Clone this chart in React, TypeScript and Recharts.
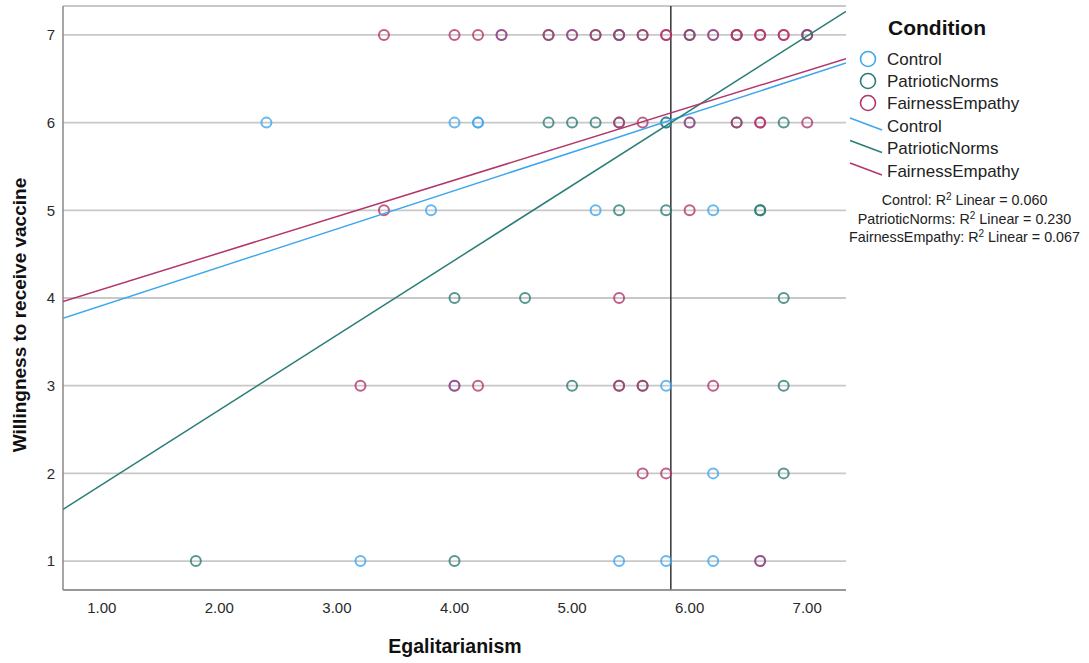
import React from 'react';
import {CartesianGrid, Label, Legend, ReferenceLine, Scatter, ScatterChart, XAxis, YAxis} from 'recharts';

// data (Egalitarianism vs willingness)
const seriesNames = ['Control', 'PatrioticNorms', 'FairnessEmpathy'];
const seriesColors = ['#3ea6ef', '#2b7d77', '#b3356b'];
const rSquared = ['0.060', '0.230', '0.067'];

const controlPoints: [number, number][] = [
    [4.4, 7], [5.0, 7], [5.4, 7], [6.0, 7], [6.2, 7], [7.0, 7],
    [2.4, 6], [4.0, 6], [4.2, 6], [4.2, 6], [5.8, 6], [6.0, 6],
    [3.8, 5], [5.2, 5], [6.2, 5],
    [4.0, 3], [5.8, 3],
    [6.2, 2],
    [3.2, 1], [5.4, 1], [5.8, 1], [6.2, 1], [6.6, 1],
];

const patrioticPoints: [number, number][] = [
    [4.8, 7], [5.2, 7], [5.4, 7], [5.6, 7], [6.0, 7], [6.4, 7], [7.0, 7],
    [4.8, 6], [5.0, 6], [5.2, 6], [5.4, 6], [5.8, 6], [6.4, 6], [6.8, 6],
    [5.4, 5], [5.8, 5], [6.6, 5], [6.6, 5],
    [4.0, 4], [4.6, 4], [6.8, 4],
    [5.0, 3], [5.4, 3], [5.6, 3], [6.8, 3],
    [6.8, 2],
    [1.8, 1], [4.0, 1],
];

const fairnessPoints: [number, number][] = [
    [3.4, 7], [4.0, 7], [4.2, 7], [4.4, 7], [4.8, 7], [5.0, 7], [5.2, 7], [5.4, 7], [5.6, 7],
    [5.8, 7], [5.8, 7], [6.0, 7], [6.2, 7], [6.4, 7], [6.4, 7], [6.6, 7], [6.6, 7], [6.8, 7], [6.8, 7], [7.0, 7],
    [5.4, 6], [5.6, 6], [6.0, 6], [6.4, 6], [6.6, 6], [6.6, 6], [7.0, 6],
    [3.4, 5], [6.0, 5],
    [5.4, 4],
    [3.2, 3], [4.0, 3], [4.2, 3], [5.4, 3], [5.6, 3], [6.2, 3],
    [5.6, 2], [5.8, 2],
    [6.6, 1],
];

// linear fit lines, endpoints at the axis limits
const controlFit: [number, number][] = [[0.67, 3.77], [7.33, 6.68]];
const patrioticFit: [number, number][] = [[0.67, 1.59], [7.33, 7.27]];
const fairnessFit: [number, number][] = [[0.67, 3.96], [7.33, 6.73]];

const xTicks = [1, 2, 3, 4, 5, 6, 7];
const yTicks = [1, 2, 3, 4, 5, 6, 7];
const meanX = 5.84;

const toXY = (pts: [number, number][]) => pts.map(([x, y]) => ({x, y}));

const FONT = '"Liberation Sans", Arial, sans-serif';

const ring = (color: string) => (props: any) => (
    <circle cx={props.cx} cy={props.cy} r={5} fill="none" stroke={color} strokeWidth={2} strokeOpacity={0.8}/>
);

const noDot = () => <g/>;

const renderLegend = () => (
    <svg width={244} height={250} style={{fontFamily: FONT}}>
        <text x={43} y={35} fontSize={21} fontWeight="bold" fill="#111">Condition</text>
        {seriesNames.map((name, i) => (
            <g key={'p' + name}>
                <circle cx={23} cy={59 + i * 22} r={7.5} fill="none" stroke={seriesColors[i]} strokeWidth={1.6}/>
                <text x={42} y={59 + i * 22} dominantBaseline="central" fontSize={17} fill="#222">{name}</text>
            </g>
        ))}
        {seriesNames.map((name, i) => (
            <g key={'l' + name}>
                <line x1={5} y1={118 + i * 22.5} x2={37} y2={130 + i * 22.5} stroke={seriesColors[i]} strokeWidth={1.5}/>
                <text x={42} y={126 + i * 22.5} dominantBaseline="central" fontSize={17} fill="#222">{name}</text>
            </g>
        ))}
        {seriesNames.map((name, i) => (
            <text key={'r' + name} x={119.5} y={205 + i * 18.5} textAnchor="middle" fontSize={14.3} fill="#222">
                {name}: R<tspan dy={-5} fontSize={10}>2</tspan><tspan dy={5}> Linear = {rSquared[i]}</tspan>
            </text>
        ))}
    </svg>
);

export default function App() {
    return (
        <div style={{position: 'absolute', left: 0, top: 0}}>
            <ScatterChart
                width={1089}
                height={663}
                margin={{top: 6, right: 243, bottom: 43, left: 0}}
                style={{fontFamily: FONT}}
            >
                <CartesianGrid vertical={false} stroke="#c8c8c8" strokeWidth={1.8}/>
                <XAxis
                    type="number"
                    dataKey="x"
                    domain={[0.67, 7.33]}
                    ticks={xTicks}
                    tickFormatter={(v: number) => v.toFixed(2)}
                    allowDataOverflow
                    height={30}
                    tickLine={false}
                    tickMargin={6}
                    axisLine={{stroke: '#888', strokeWidth: 1.5}}
                    tick={{fill: '#2a2a2a', fontSize: 15}}
                >
                    <Label content={() => (
                        <text x={455} y={653} textAnchor="middle" fontSize={19.5} fontWeight="bold" fill="#111">Egalitarianism</text>
                    )}/>
                </XAxis>
                <YAxis
                    type="number"
                    dataKey="y"
                    domain={[0.67, 7.33]}
                    ticks={yTicks}
                    allowDataOverflow
                    width={63}
                    tickLine={false}
                    axisLine={{stroke: '#888', strokeWidth: 1.5}}
                    tick={{fill: '#2a2a2a', fontSize: 15}}
                >
                    <Label content={() => (
                        <text x={19} y={315} transform="rotate(-90 19 315)" textAnchor="middle" dominantBaseline="central"
                              fontSize={19} fontWeight="bold" fill="#111">Willingness to receive vaccine</text>
                    )}/>
                </YAxis>
                <Legend content={renderLegend} layout="vertical" align="center" verticalAlign="middle"
                        wrapperStyle={{left: 845, top: 0, width: 244, height: 250}}/>
                <Scatter name="Control" data={toXY(controlPoints)} shape={ring(seriesColors[0])} isAnimationActive={false}/>
                <Scatter name="PatrioticNorms" data={toXY(patrioticPoints)} shape={ring(seriesColors[1])} isAnimationActive={false}/>
                <Scatter name="FairnessEmpathy" data={toXY(fairnessPoints)} shape={ring(seriesColors[2])} isAnimationActive={false}/>
                <ReferenceLine x={meanX} stroke="#333" strokeWidth={1.5}/>
                <Scatter data={toXY(controlFit)} line={{stroke: seriesColors[0], strokeWidth: 1.5}} shape={noDot} legendType="none" isAnimationActive={false}/>
                <Scatter data={toXY(patrioticFit)} line={{stroke: seriesColors[1], strokeWidth: 1.5}} shape={noDot} legendType="none" isAnimationActive={false}/>
                <Scatter data={toXY(fairnessFit)} line={{stroke: seriesColors[2], strokeWidth: 1.5}} shape={noDot} legendType="none" isAnimationActive={false}/>
            </ScatterChart>
        </div>
    );
}
